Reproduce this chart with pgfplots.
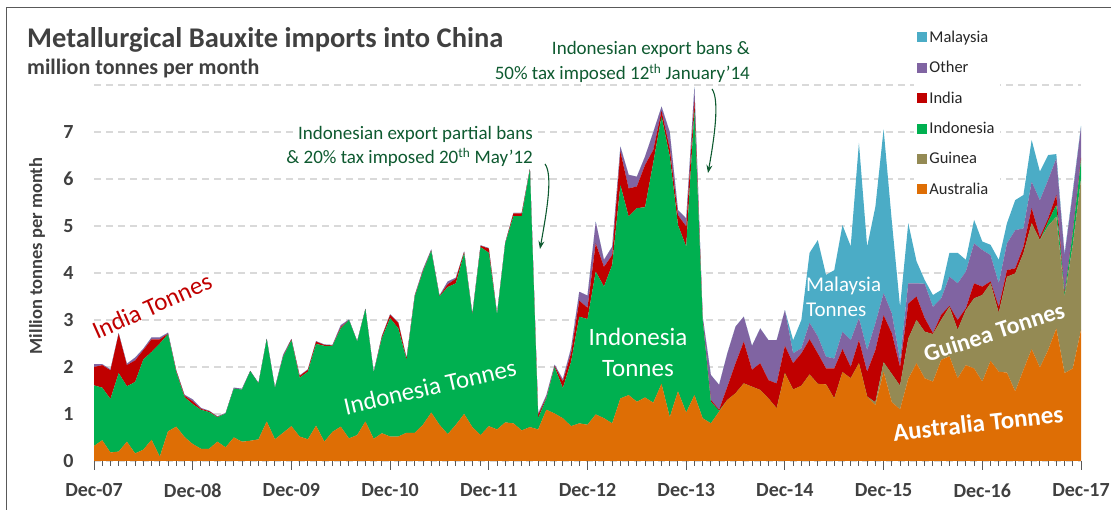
\documentclass[border=0pt]{standalone}
\usepackage{pgfplots}
\pgfplotsset{compat=1.18}
\usepackage{pgfplotstable}
\usepackage{fontspec}
\setmainfont{Carlito}
\usetikzlibrary{arrows.meta}
\definecolor{caus}{RGB}{222,110,5}
\definecolor{cgui}{RGB}{148,138,84}
\definecolor{cindo}{RGB}{0,176,80}
\definecolor{cind}{RGB}{192,0,0}
\definecolor{coth}{RGB}{128,100,162}
\definecolor{cmal}{RGB}{75,172,198}
\definecolor{labgray}{RGB}{64,64,64}
\definecolor{axgray}{RGB}{89,89,89}
\definecolor{gridgray}{RGB}{217,217,217}
\definecolor{anngreen}{RGB}{14,90,48}
\pgfplotstableread{
i aus gui indo ind oth mal
0 0.32 0 1.29 0.39 0.06 0
1 0.44 0 1.12 0.48 0.02 0
2 0.18 0 1.14 0.61 0.02 0
3 0.20 0 1.67 0.84 0.01 0
4 0.41 0 1.18 0.45 0.03 0
5 0.16 0 1.52 0.46 0.06 0
6 0.24 0 1.92 0.20 0.03 0
7 0.45 0 1.87 0.27 0.04 0
8 0.09 0 2.41 0.09 0.04 0
9 0.63 0 2.07 0.01 0.02 0
10 0.73 0 1.16 0.03 0.01 0
11 0.51 0 0.85 0.03 0.02 0
12 0.36 0 0.85 0.06 0.04 0
13 0.26 0 0.83 0.02 0.02 0
14 0.26 0 0.78 0.02 0.01 0
15 0.41 0 0.52 0.01 0.01 0
16 0.29 0 0.72 0 0.01 0
17 0.50 0 1.04 0 0.02 0
18 0.41 0 1.11 0 0.02 0
19 0.43 0 1.48 0 0.01 0
20 0.46 0 1.19 0 0.01 0
21 0.84 0 1.75 0 0.01 0
22 0.46 0 1.09 0 0.01 0
23 0.60 0 1.62 0.01 0.03 0
24 0.74 0 1.83 0.02 0.01 0
25 0.52 0 1.25 0.04 0.01 0
26 0.46 0 1.44 0.04 0.01 0
27 0.75 0 1.74 0.05 0.01 0
28 0.41 0 2.04 0.02 0.01 0
29 0.62 0 1.83 0.01 0.01 0
30 0.73 0 2.09 0.03 0.04 0
31 0.48 0 2.52 0 0.01 0
32 0.55 0 1.99 0 0.01 0
33 0.84 0 2.39 0 0.01 0
34 0.47 0 1.41 0 0.01 0
35 0.59 0 2.02 0.04 0.01 0
36 0.52 0 2.52 0.07 0.01 0
37 0.52 0 2.30 0.12 0.01 0
38 0.60 0 1.55 0.03 0.01 0
39 0.60 0 2.90 0.02 0.01 0
40 0.77 0 3.26 0.02 0.03 0
41 1.03 0 3.44 0.01 0.02 0
42 0.77 0 2.73 0.01 0.01 0
43 0.57 0 3.13 0.06 0.06 0
44 0.77 0 3.01 0.10 0.02 0
45 1.00 0 3.42 0.03 0.01 0
46 0.72 0 2.39 0.01 0.01 0
47 0.55 0 4.00 0.03 0.01 0
48 0.74 0 3.69 0.09 0.01 0
49 0.67 0 2.44 0.01 0.01 0
50 0.82 0 3.81 0.01 0.01 0
51 0.80 0 4.41 0.06 0.01 0
52 0.65 0 4.56 0.06 0.01 0
53 0.72 0 5.48 0.01 0.01 0
54 0.67 0 0.24 0.07 0.03 0
55 1.09 0 0.24 0.02 0.05 0
56 1.01 0 0.99 0.02 0.03 0
57 0.91 0 0.64 0.14 0.05 0
58 0.74 0 1.37 0.18 0.11 0
59 0.80 0 2.27 0.34 0.19 0
60 0.77 0 2.25 0.24 0.26 0
61 0.99 0 3.04 0.60 0.46 0
62 0.91 0 2.80 0.42 0.15 0
63 0.80 0 3.37 0.21 0.18 0
64 1.33 0 4.54 0.71 0.11 0
65 1.40 0 3.80 0.60 0.29 0
66 1.26 0 4.12 0.46 0.21 0
67 1.35 0 4.05 0.90 0.18 0
68 1.24 0 5.11 0.27 0.38 0
69 1.64 0 5.69 0.12 0.09 0
70 0.93 0 5.55 0.17 0.35 0
71 1.48 0 3.54 0.21 0.11 0
72 1.03 0 3.53 0.43 0.17 0
73 1.40 0 6.07 0.21 0.28 0
74 0.91 0 2.09 0.02 0.05 0
75 0.80 0 0.46 0.04 0.53 0
76 1.05 0 0.02 0.02 0.53 0
77 1.30 0 0 0.28 0.71 0
78 1.44 0 0 0.64 0.78 0
79 1.65 0 0 0.89 0.53 0
80 1.58 0 0 0.36 0.51 0
81 1.51 0 0 0.57 0.74 0
82 1.33 0 0 0.39 0.85 0
83 1.12 0 0 0.53 0.92 0
84 1.87 0 0 0.58 0.76 0
85 1.52 0 0 0.56 0.21 0.28
86 1.60 0 0 0.69 0.11 0.60
87 1.84 0 0 0.75 0.35 1.49
88 1.64 0 0 0.65 0.36 2.05
89 1.63 0 0 0.34 0.25 1.74
90 1.33 0 0 0.64 0.21 1.88
91 1.89 0 0 0.49 0.37 2.27
92 1.76 0 0 0.24 0.57 2.00
93 2.08 0 0 0.49 0.47 3.73
94 1.37 0 0 0.53 0.46 2.20
95 1.19 0.06 0 1.11 0.57 2.48
96 1.90 0.20 0 1.00 0.47 3.49
97 1.25 0.60 0 0.87 0.42 1.96
98 1.10 0.50 0 0.40 0.15 1.13
99 1.75 0.85 0 0.75 0.43 1.28
100 2.08 0.92 0 0.50 0.28 0.47
101 1.76 0.99 0 0.29 0.73 0.08
102 1.69 1.01 0 0.02 0.56 0.25
103 2.15 0.85 0 0.11 0.35 0.18
104 2.23 1.05 0 0.02 0.62 0.51
105 1.76 1.03 0 0.21 0.78 0.65
106 2.04 1.17 0 0.04 0.78 0.25
107 1.97 1.49 0 0.32 0.85 0.50
108 1.69 1.84 0 0.18 0.78 0.18
109 2.13 1.65 0 0.04 0.56 0.22
110 1.90 1.25 0 0.13 0.50 0.50
111 1.88 2.04 0 0.14 0.57 0.43
112 1.48 2.51 0 0.11 0.81 0.64
113 1.94 2.48 0 0.14 0.39 0.71
114 2.38 2.68 0 0.32 0.56 0.89
115 1.99 2.71 0 0.07 0.78 0.61
116 2.36 2.64 0.09 0.07 0.82 0.53
117 2.82 2.38 0.25 0.21 0.78 0.09
118 1.87 1.63 0.05 0.03 0.80 0.04
119 1.97 2.63 0.25 0.03 0.82 0.05
120 2.79 3.21 0.40 0.05 0.65 0.03
}\datatable
\begin{document}
\begin{tikzpicture}[x=1pt,y=1pt]
\useasboundingbox (0,0) rectangle (1111,510);
\begin{axis}[
  at={(94pt,49pt)}, anchor=south west,
  scale only axis, width=987pt, height=376pt,
  xmin=0, xmax=120, ymin=0, ymax=8,
  stack plots=y,
  axis x line*=bottom, axis y line*=left,
  y axis line style={draw=none},
  x axis line style={draw=axgray, line width=1pt},
  xtick={0,12,...,120},
  xticklabels={Dec-07,Dec-08,Dec-09,Dec-10,Dec-11,Dec-12,Dec-13,Dec-14,Dec-15,Dec-16,Dec-17},
  minor xtick={0,1,...,120},
  ytick={0,1,...,8}, yticklabels={0,1,2,3,4,5,6,7,{}},
  ymajorgrids,
  major grid style={dash pattern=on 7pt off 5pt, draw=gridgray, line width=1.3pt},
  xtick style={draw=axgray, line width=1pt},
  ytick style={draw=none},
  tick align=outside,
  major tick length=9pt, minor tick length=5pt,
  ticklabel style={font=\bfseries\fontsize{20}{20}\selectfont, text=labgray},
  xticklabel style={yshift=-10pt},
  yticklabel style={xshift=-8pt},
  reverse legend,
  legend style={at={(axis description cs:0.831,1.158)}, anchor=north west, draw=none, fill=white,
     font=\fontsize{16.5}{18}\selectfont, text=black!85, row sep=13.5pt, inner sep=3pt, cells={anchor=west}},
  legend image code/.code={\fill[#1] (0pt,-5pt) rectangle (10pt,5pt);},
]
\addplot[fill=caus, draw=none] table[x=i,y=aus]{\datatable} \closedcycle;
\addlegendentry{Australia}
\addplot[fill=cgui, draw=none] table[x=i,y=gui]{\datatable} \closedcycle;
\addlegendentry{Guinea}
\addplot[fill=cindo, draw=none] table[x=i,y=indo]{\datatable} \closedcycle;
\addlegendentry{Indonesia}
\addplot[fill=cind, draw=none] table[x=i,y=ind]{\datatable} \closedcycle;
\addlegendentry{India}
\addplot[fill=coth, draw=none] table[x=i,y=oth]{\datatable} \closedcycle;
\addlegendentry{Other}
\addplot[fill=cmal, draw=none] table[x=i,y=mal]{\datatable} \closedcycle;
\addlegendentry{Malaysia}
\end{axis}
% frame
\draw[axgray, line width=1.2pt] (6.5,-5) -- (6.5,502.5) -- (1125,502.5);
% titles
\node[anchor=base west, inner sep=0, text=labgray, font=\bfseries\fontsize{28.5}{30}\selectfont] at (27,462) {Metallurgical Bauxite imports into China};
\node[anchor=base west, inner sep=0, text=labgray, font=\bfseries\fontsize{22}{24}\selectfont] at (27,435) {million tonnes per month};
\node[rotate=90, inner sep=0, text=labgray, font=\bfseries\fontsize{18.5}{19}\selectfont] at (37,254) {Million tonnes per month};
% annotations
\node[anchor=base east, inner sep=2pt, fill=white, text=anngreen, font=\fontsize{19}{20}\selectfont] at (535,370) {Indonesian export partial bans};
\node[anchor=base east, inner sep=2pt, fill=white, text=anngreen, font=\fontsize{19}{20}\selectfont] at (535,346) {\&~20\% tax imposed 20\textsuperscript{th} May'12};
\node[anchor=base east, inner sep=2pt, text=anngreen, font=\fontsize{19}{20}\selectfont] at (752,455) {Indonesian export bans \&};
\node[anchor=base east, inner sep=2pt, text=anngreen, font=\fontsize{19}{20}\selectfont] at (752,430) {50\% tax imposed 12\textsuperscript{th} January'14};
\draw[anngreen, line width=1.1pt, -{Stealth[length=8pt,width=6pt]}] (545,346) .. controls (553,335) and (547,300) .. (540,261);
\draw[anngreen, line width=1.1pt, -{Stealth[length=8pt,width=6pt]}] (712,421) .. controls (720,410) and (714,370) .. (708,337);
% series labels
\node[rotate=24, text=cind, font=\fontsize{25}{26}\selectfont] at (152,204) {India Tonnes};
\node[rotate=13, text=white, font=\fontsize{25}{26}\selectfont] at (430,123) {Indonesia Tonnes};
\node[align=center, text=white, font=\fontsize{25}{31}\selectfont] at (638,158) {Indonesia\\Tonnes};
\node[anchor=west, align=left, text=white, font=\fontsize{21}{25}\selectfont, inner sep=0] at (806,213) {Malaysia\\Tonnes};
\node[rotate=18, text=white, font=\bfseries\fontsize{24}{26}\selectfont] at (994,178) {Guinea Tonnes};
\node[rotate=6.5, text=white, font=\bfseries\fontsize{25}{26}\selectfont] at (978,87) {Australia Tonnes};
\end{tikzpicture}
\end{document}
